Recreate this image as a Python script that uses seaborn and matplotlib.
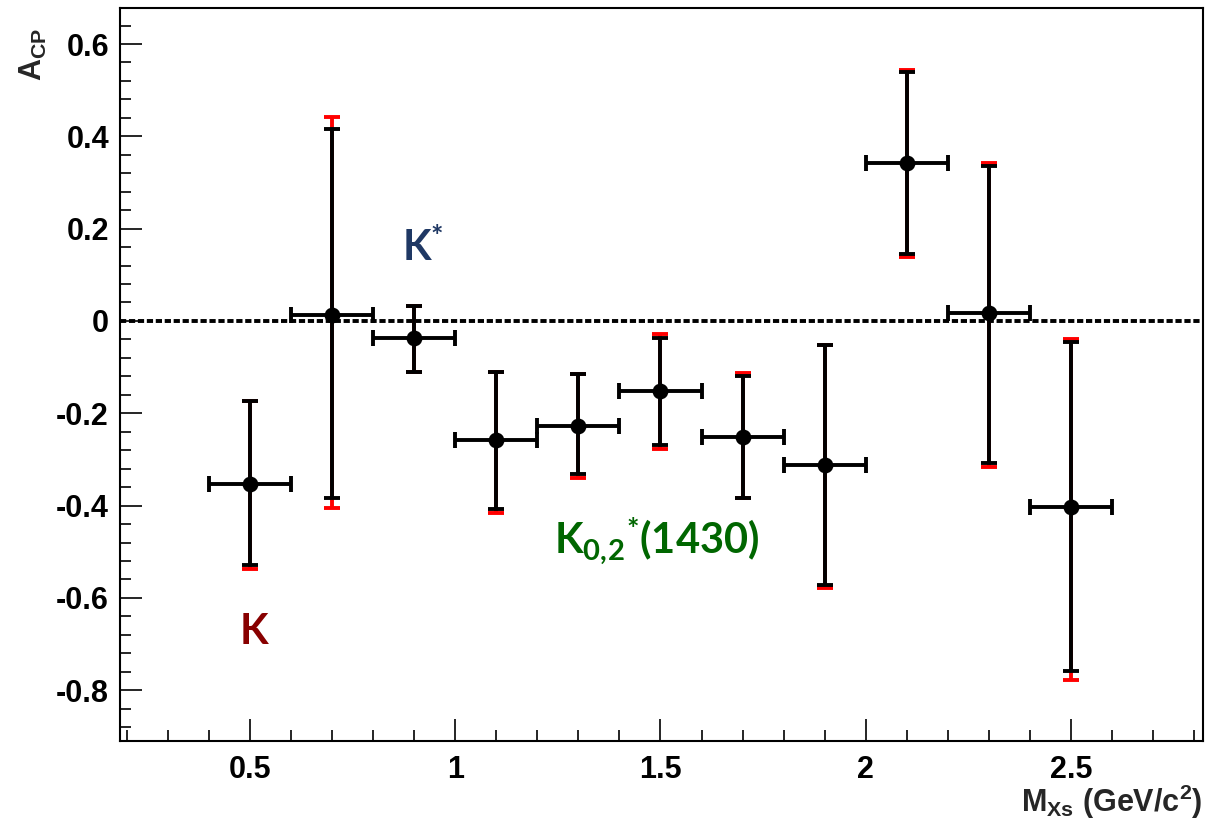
import numpy as np
import pandas as pd
import seaborn as sns
import matplotlib.pyplot as plt
from matplotlib.ticker import MultipleLocator, FuncFormatter

# bin centres in M_Xs (GeV/c^2) and half bin width
mxs = [0.5, 0.7, 0.9, 1.1, 1.3, 1.5, 1.7, 1.9, 2.1, 2.3, 2.5]
half_bin = [0.1] * 11

# A_CP central values
acp = [-0.353, 0.013, -0.037, -0.258, -0.227, -0.152, -0.251, -0.312, 0.342, 0.017, -0.403]

# black (statistical) error bar ends
stat_hi = [-0.173, 0.416, 0.033, -0.110, -0.115, -0.037, -0.119, -0.052, 0.540, 0.336, -0.045]
stat_lo = [-0.529, -0.384, -0.110, -0.407, -0.331, -0.269, -0.384, -0.572, 0.145, -0.308, -0.758]

# red (total) error bar ends
tot_hi = [-0.173, 0.442, 0.033, -0.110, -0.115, -0.028, -0.113, -0.052, 0.544, 0.342, -0.039]
tot_lo = [-0.537, -0.405, -0.110, -0.416, -0.340, -0.277, -0.384, -0.579, 0.139, -0.316, -0.778]

df = pd.DataFrame({"mxs": mxs, "acp": acp})

sns.set_theme(style="ticks")
plt.rcParams["font.family"] = ["Liberation Sans", "DejaVu Sans"]
plt.rcParams["font.weight"] = "bold"
plt.rcParams["mathtext.fontset"] = "custom"
plt.rcParams["mathtext.rm"] = "Liberation Sans:bold"
plt.rcParams["mathtext.bf"] = "Lato:bold"
plt.rcParams["mathtext.default"] = "rm"

fig = plt.figure(figsize=(12.2, 8.24), dpi=100)
ax = fig.add_axes([120 / 1220, 1 - 741 / 824, 1083 / 1220, 733 / 824])

a = np.array(acp)
tot_err = [a - np.array(tot_lo), np.array(tot_hi) - a]
stat_err = [a - np.array(stat_lo), np.array(stat_hi) - a]

# zero line
ax.axhline(0, color="black", lw=2.8, ls=(0, (1.6, 0.7)), zorder=1)

# total errors in red behind, statistical errors in black on top
ax.errorbar(mxs, acp, yerr=tot_err, fmt="none", ecolor="red", elinewidth=2.8,
            capsize=6, capthick=2.8, zorder=2)
ax.errorbar(mxs, acp, xerr=half_bin, yerr=stat_err, fmt="none", ecolor="black",
            elinewidth=2.8, capsize=6, capthick=2.8, zorder=3)
sns.scatterplot(data=df, x="mxs", y="acp", ax=ax, color="black", s=130,
                edgecolor="black", linewidth=0, zorder=4, legend=False)

ax.set_xlim(0.183, 2.822)
ax.set_ylim(-0.91, 0.678)
ax.set_xlabel("")
ax.set_ylabel("")

ax.xaxis.set_major_locator(MultipleLocator(0.5))
ax.xaxis.set_minor_locator(MultipleLocator(0.1))
ax.yaxis.set_major_locator(MultipleLocator(0.2))
ax.yaxis.set_minor_locator(MultipleLocator(0.04))
fmt = FuncFormatter(lambda v, p: "0" if abs(v) < 1e-9 else f"{v:g}")
ax.xaxis.set_major_formatter(fmt)
ax.yaxis.set_major_formatter(fmt)

ax.tick_params(which="both", direction="in", top=False, right=False, width=1.2,
               color="black")
ax.tick_params(which="major", length=16, labelsize=22, labelcolor="black")
ax.tick_params(which="minor", length=8)
ax.tick_params(axis="x", which="major", pad=10)
ax.tick_params(axis="y", which="major", pad=8)
for lab in ax.get_xticklabels() + ax.get_yticklabels():
    lab.set_fontweight("bold")

for s in ax.spines.values():
    s.set_linewidth(1.5)
    s.set_color("black")

# axis titles
fig.text(33 / 1220, 1 - 28 / 824, r"A$_{\rm CP}$", rotation=90, ha="center",
         va="top", fontsize=22, fontweight="bold")
fig.text(1202 / 1220, 1 - 812 / 824, r"M$_{\rm Xs}$ (GeV/c$^{2}$)", ha="right",
         va="baseline", fontsize=22, fontweight="bold")

# resonance labels
ax.text(0.51, -0.675, r"$\mathbf{K}$", color="#880000", fontsize=30,
        ha="center", va="center")
ax.text(0.92, 0.155, r"$\mathbf{K^{*}}$", color="#1f3864", fontsize=30,
        ha="center", va="center")
ax.text(1.49, -0.475, r"$\mathbf{K_{0,\!2}{}^{*}(1430)}$", color="#006600",
        fontsize=30, ha="center", va="center")

fig.savefig("out.png", dpi=100)
